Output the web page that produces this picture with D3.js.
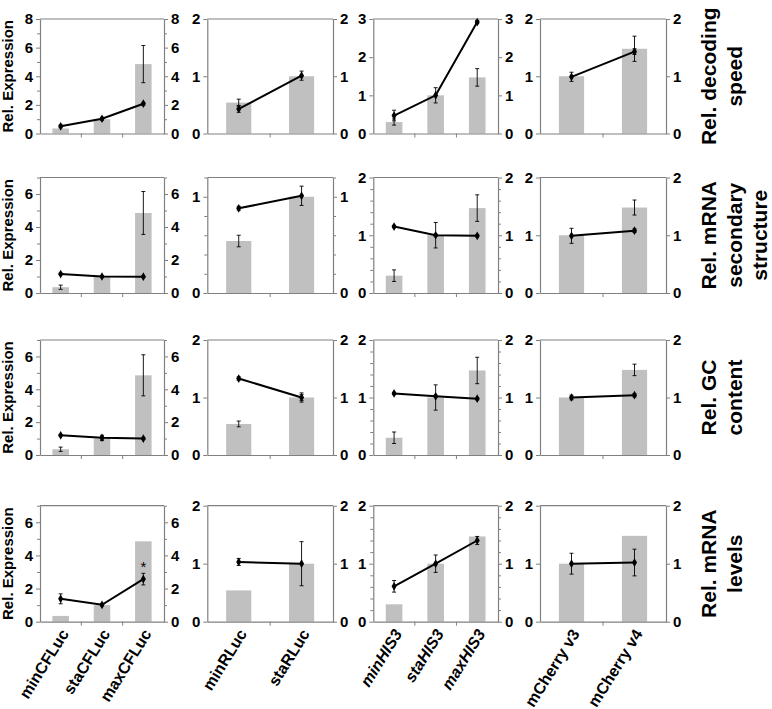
<!DOCTYPE html>
<html><head><meta charset="utf-8">
<script src="https://cdn.jsdelivr.net/npm/d3@7"></script>
<style>
body{margin:0;background:#fff}
text{font-family:"Liberation Sans",Arial,Helvetica,sans-serif;font-weight:bold;fill:#000}
</style>
</head><body>
<svg id="c" width="772" height="709"></svg>
<script>
// ---------- data ----------
const rowLabels = [["Rel. decoding","speed"],["Rel. mRNA","secondary","structure"],["Rel. GC","content"],["Rel. mRNA","levels"]];
const categoryGroups = [["minCFLuc","staCFLuc","maxCFLuc"],["minRLuc","staRLuc"],["minHIS3","staHIS3","maxHIS3"],["mCherry v3","mCherry v4"]];
const italicGroups = [false,false,true,false];
const leftAxisTitle = "Rel. Expression";
const barValues = [[0.35,1.0,4.85],[0.54,1.0],[0.3,1.0,1.47],[1.0,1.48]];
const barErrors = [
  [[0,0,1.3],[0.06,0],[0.08,0,0.23],[0,0.22]],
  [[0.13,0,1.3],[0.06,0],[0.1,0.22,0.23],[0,0.13]],
  [[0.13,0.1,1.25],[0.05,0.08],[0.1,0.22,0.23],[0,0.1]],
  [[0,0,0],[0,0],[0,0,0],[0,0]]
];
const lineValues = [
  [[0.5,1.03,2.08],[0.43,1.01],[0.47,1.0,2.92],[0.99,1.43]],
  [[1.15,1.0,0.99],[0.88,1.01],[1.15,1.0,0.99],[0.99,1.08]],
  [[1.2,1.05,1.0],[1.33,1.0],[1.07,1.02,0.98],[1.0,1.04]],
  [[1.38,1.02,2.57],[1.03,1.0],[0.61,1.0,1.4],[1.0,1.02]]
];
const lineErrors = [
  [[0.1,0.1,0.1],[0.06,0.08],[0.14,0.2,0.04],[0.08,0.05]],
  [[0.05,0.05,0.05],[0.02,0.1],[0.02,0.02,0.02],[0.13,0.03]],
  [[0.05,0.15,0.05],[0.03,0.05],[0.02,0.02,0.02],[0.04,0.03]],
  [[0.3,0.07,0.35],[0.06,0.38],[0.1,0.15,0.07],[0.18,0.23]]
];
const yMaxes = [[8,2,3,2],[7,1.2,2,2],[7,2,2,2],[7,2,2,2]];
const yTicks = [
  [[0,2,4,6,8],[0,1,2],[0,1,2,3],[0,1,2]],
  [[0,2,4,6],[0,1],[0,1,2],[0,1,2]],
  [[0,2,4,6],[0,1,2],[0,1,2],[0,1,2]],
  [[0,2,4,6],[0,1,2],[0,1,2],[0,1,2]]
];
const minorSteps = [[1,0,0,0],[1,0.2,0.2,0],[1,0,0.2,0],[1,0,0.2,0]];
const significance = [{row:3,col:0,cat:2,label:"*"}];

// ---------- layout ----------
const colX = [[40,164],[207.3,333],[373.3,498],[540,666]];
const rowY = [[19,133.5],[177.5,293],[340,455],[505.7,621.7]];
const axisColor = "#808080", barColor = "#c0c0c0";

const svg = d3.select("#c");

function styleAxis(g){
  g.selectAll("path.domain").attr("stroke",axisColor).attr("stroke-width",1.2);
  g.selectAll(".tick line").attr("stroke",axisColor);
  g.selectAll(".tick text").style("font-size","15px").style("font-weight","bold")
    .style("font-family",'"Liberation Sans",Arial,sans-serif').attr("fill","#000");
}

for(let r=0;r<4;r++){
  for(let c=0;c<4;c++){
    const [x0,x1] = colX[c], [y0,y1] = rowY[r];
    const cats = categoryGroups[c];
    const x = d3.scaleBand().domain(cats).range([x0,x1]);
    const y = d3.scaleLinear().domain([0,yMaxes[r][c]]).range([y1,y0]);
    const g = svg.append("g");
    const bw = x.bandwidth()*0.4;

    // bars
    g.selectAll("rect").data(cats).join("rect")
      .attr("x",d=>x(d)+x.bandwidth()/2-bw/2).attr("width",bw)
      .attr("y",(d,i)=>y(barValues[c][i])).attr("height",(d,i)=>y(0)-y(barValues[c][i]))
      .attr("fill",barColor);

    // top frame
    g.append("line").attr("x1",x0).attr("x2",x1).attr("y1",y0).attr("y2",y0)
      .attr("stroke",axisColor).attr("stroke-width",1.2);

    // axes
    const fmt = d3.format("~g");
    const minor = minorSteps[r][c] ? d3.range(0,yMaxes[r][c]+1e-9,minorSteps[r][c]).filter(v=>!yTicks[r][c].some(t=>Math.abs(t-v)<1e-9)) : [];
    const gl = g.append("g").attr("transform",`translate(${x0},0)`)
      .call(d3.axisLeft(y).tickValues(yTicks[r][c]).tickSize(4).tickSizeOuter(0).tickPadding(3).tickFormat(fmt));
    styleAxis(gl);
    const gr = g.append("g").attr("transform",`translate(${x1},0)`)
      .call(d3.axisRight(y).tickValues(yTicks[r][c]).tickSize(4).tickSizeOuter(0).tickPadding(3).tickFormat(fmt));
    styleAxis(gr);
    if(minor.length){
      [[x0,d3.axisLeft],[x1,d3.axisRight]].forEach(([xx,ax])=>{
        const gm = g.append("g").attr("transform",`translate(${xx},0)`)
          .call(ax(y).tickValues(minor).tickSize(3).tickSizeOuter(0).tickFormat(""));
        gm.select("path.domain").remove();
        gm.selectAll(".tick line").attr("stroke",axisColor);
      });
    }
    const gb = g.append("g").attr("transform",`translate(0,${y1})`)
      .call(d3.axisBottom(x).tickSize(0).tickSizeOuter(0).tickFormat(""));
    styleAxis(gb);
    gb.selectAll(".tick").remove();
    cats.slice(1).forEach(d=>{
      g.append("line").attr("x1",x(d)).attr("x2",x(d)).attr("y1",y1).attr("y2",y1+4)
        .attr("stroke",axisColor);
    });

    // bar error bars
    function errBar(cx,v,e,w){
      if(!e) return;
      g.append("line").attr("x1",cx).attr("x2",cx).attr("y1",y(v-e)).attr("y2",y(v+e)).attr("stroke","#000").attr("stroke-width",0.9);
      [v-e,v+e].forEach(t=>g.append("line").attr("x1",cx-w).attr("x2",cx+w).attr("y1",y(t)).attr("y2",y(t)).attr("stroke","#000").attr("stroke-width",0.9));
    }
    cats.forEach((d,i)=>errBar(x(d)+x.bandwidth()/2,barValues[c][i],barErrors[r][c][i],2));

    // line
    const pts = cats.map((d,i)=>[x(d)+x.bandwidth()/2, y(lineValues[r][c][i])]);
    g.append("path").attr("d",d3.line()(pts)).attr("fill","none").attr("stroke","#000").attr("stroke-width",2);
    cats.forEach((d,i)=>errBar(x(d)+x.bandwidth()/2,lineValues[r][c][i],lineErrors[r][c][i],2));
    g.selectAll("path.pt").data(pts).join("path").attr("class","pt")
      .attr("transform",p=>`translate(${p[0]},${p[1]})`)
      .attr("d",d3.symbol(d3.symbolDiamond,22)).attr("fill","#000");

    significance.filter(s=>s.row===r&&s.col===c).forEach(s=>{
      const cx = x(cats[s.cat])+x.bandwidth()/2;
      const v = lineValues[r][c][s.cat]+lineErrors[r][c][s.cat];
      g.append("text").attr("x",cx).attr("y",y(v)-1).attr("text-anchor","middle")
        .style("font-size","15px").style("font-weight","normal").text(s.label);
    });

    // left axis title
    if(c===0){
      svg.append("text").attr("transform",`translate(12.5,${(y0+y1)/2}) rotate(-90)`)
        .attr("text-anchor","middle").style("font-size","15px").text(leftAxisTitle);
    }
    // category labels (bottom row)
    if(r===3){
      cats.forEach(d=>{
        const cx = x(d)+x.bandwidth()/2;
        svg.append("text").attr("transform",`translate(${cx+4},${y1+9}) rotate(-58)`)
          .attr("text-anchor","end").attr("dy","0.35em")
          .style("font-size","16px").style("font-style",italicGroups[c]?"italic":"normal").text(d);
      });
    }
  }
  // row label
  const [y0,y1] = rowY[r];
  const lines = rowLabels[r];
  lines.forEach((t,k)=>{
    svg.append("text").attr("transform",`translate(${716+k*25.5},${(y0+y1)/2}) rotate(-90)`)
      .attr("text-anchor","middle").style("font-size","21px").text(t);
  });
}
</script>
</body></html>
